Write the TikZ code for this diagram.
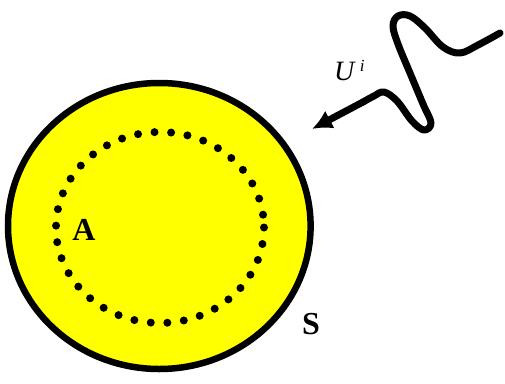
\documentclass[tikz,border=0pt]{standalone}
\usepackage{fontspec}
\setmainfont{Liberation Serif}
\usetikzlibrary{arrows.meta}
\definecolor{fillyellow}{RGB}{255,255,0}
\tikzset{
  outerring/.style={draw=black, line width=6.5pt, fill=fillyellow},
  dotring/.style={draw=black, line width=8pt, line cap=round, dash pattern=on 0pt off 16.6pt},
  wave/.style={draw=black, line width=7pt, line cap=round, line join=round},
  lbl/.style={inner sep=0pt, font=\fontsize{32}{36}\selectfont\bfseries},
}
\begin{document}
\begin{tikzpicture}[x=1pt,y=-1pt]
\useasboundingbox (0,0) rectangle (505,383);
% body
\path[outerring] (159.3,226) ellipse [x radius=151.3, y radius=143];
\path[dotring] (160,227.5) ellipse [x radius=104, y radius=95.5];
% incident wave
\coordinate (wstart) at (500,33);
\coordinate (wbend) at (363,102);
\coordinate (wtip) at (312,129);
\draw[wave] plot[smooth, tension=0.6] coordinates {(500,33) (478,45) (460,53) (443,47) (425,28) (410,16) (398,16) (393,26) (398,44) (410,73) (423,104) (431,123) (424,130) (412,121) (397,101) (384,92) (374,96) (363,102)};
\draw[wave, -{Latex[length=20pt,width=20pt]}] (wbend) -- (wtip);
% labels
\node[inner sep=0pt, font=\fontsize{28}{32}\selectfont, anchor=base west] (ui) at (334,80) {\textit{U}\hspace{4pt}\raisebox{9pt}{\fontsize{17}{19}\selectfont\textit{i}}};
\node[lbl] (A) at (84,230) {A};
\node[lbl] (S) at (311,324) {S};
\end{tikzpicture}
\end{document}
